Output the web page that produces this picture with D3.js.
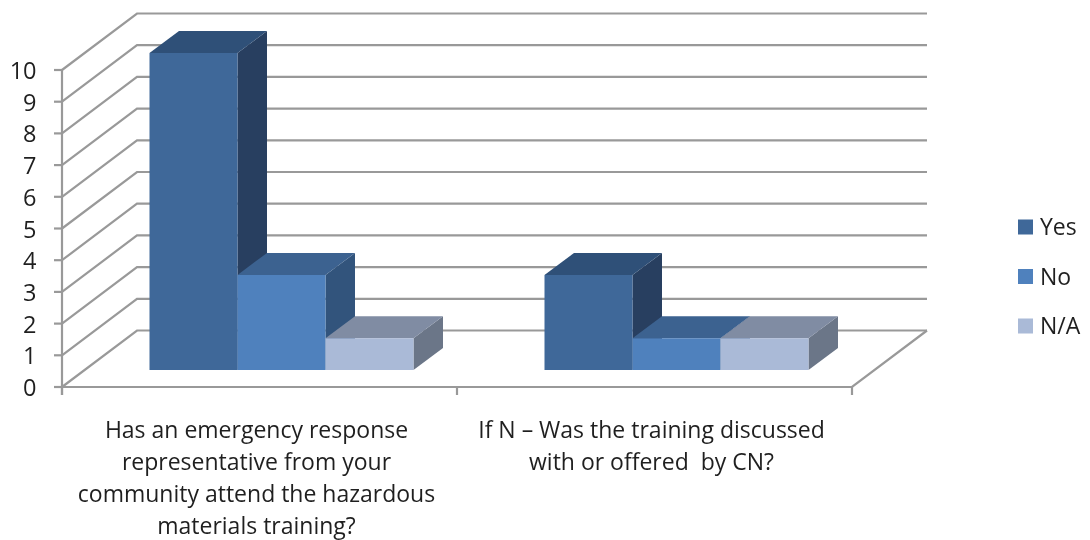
<!DOCTYPE html>
<html><head><meta charset="utf-8">
<script src="https://cdn.jsdelivr.net/npm/d3@7"></script>
<style>html,body{margin:0;background:#fff}svg{display:block;filter:blur(.5px)}text{font-family:"Open Sans",sans-serif;fill:#1f1f1f;white-space:pre}</style>
</head><body><svg id="c" width="1090" height="540"></svg>
<script>
const categories = ["Q1","Q2"];
const categoryLines = [
 ["Has an emergency response","representative from your","community attend the hazardous","materials training?"],
 ["If N – Was the training discussed","with or offered  by CN?"]];
const seriesNames = ["Yes","No","N/A"];
const yesValues = [10,3];
const noValues = [3,1];
const naValues = [1,1];
const yTicks = [0,1,2,3,4,5,6,7,8,9,10];
const seriesValues = [yesValues,noValues,naValues];
const fronts = ["#3f6899","#4f81bd","#aabad7"];
const tops = ["#2f5078","#3c6290","#808ca3"];
const sides = ["#283f60","#32547c","#6b7688"];

const svg = d3.select("#c");
const GRID = "#999999";
const y = d3.scaleLinear().domain([0,10]).range([387,70]);
const x0 = d3.scaleBand().domain(categories).range([62,852]);
const x1 = d3.scaleBand().domain(seriesNames).range([0,264]);
const wall = {dx:75,dy:-56.5}, inset = {dx:22,dy:-17}, depth = {dx:29.5,dy:-22};
const line = (pts,w=2.2)=>svg.append("path").attr("d",d3.line()(pts)).attr("fill","none").attr("stroke",GRID).attr("stroke-width",w);

// walls and gridlines
yTicks.forEach(t=>{
  const v=y(t);
  line([[62,v],[62+wall.dx,v+wall.dy],[x0.range()[1]+wall.dx,v+wall.dy]]);
  line([[54,v],[62,v]]);
  svg.append("text").attr("x",36.5).attr("y",v+9).attr("text-anchor","end").attr("font-size",23.5).text(t);
});
line([[62,y(10)],[62,y(0)+8]]);
line([[62,y(0)],[852,y(0)],[852+wall.dx,y(0)+wall.dy]]);
[62,x0("Q2"),852].forEach(p=>line([[p,387],[p,395]]));

// bars
categories.forEach((c,ci)=>{
  const groupX = x0(c)+(x0.bandwidth()-x1.range()[1])/2+inset.dx;
  seriesNames.forEach((s,si)=>{
    const v=seriesValues[si][ci];
    const xl=groupX+x1(s), xr=xl+x1.bandwidth(), yb=y(0)+inset.dy, yt=y(v)+inset.dy;
    const poly=(pts,f)=>svg.append("polygon").attr("points",pts.join(" ")).attr("fill",f);
    poly([[xr,yb],[xr+depth.dx,yb+depth.dy],[xr+depth.dx,yt+depth.dy],[xr,yt]],sides[si]);
    poly([[xl,yt],[xl+depth.dx,yt+depth.dy],[xr+depth.dx,yt+depth.dy],[xr,yt]],tops[si]);
    poly([[xl,yb],[xl,yt],[xr,yt],[xr,yb]],fronts[si]);
  });
});

// category labels
categories.forEach((c,ci)=>{
  categoryLines[ci].forEach((t,i)=>{
    svg.append("text").attr("x",x0(c)+x0.bandwidth()/2-3).attr("y",438+i*32)
      .attr("text-anchor","middle").attr("font-size",23).text(t);
  });
});

// legend
const ly=d3.scalePoint().domain(seriesNames).range([227,326]);
seriesNames.forEach((s,i)=>{
  svg.append("rect").attr("x",1018).attr("y",ly(s)-7.5).attr("width",15).attr("height",15).attr("fill",fronts[i]);
  svg.append("text").attr("x",1040).attr("y",ly(s)+8).attr("font-size",23).text(s);
});
</script></body></html>
